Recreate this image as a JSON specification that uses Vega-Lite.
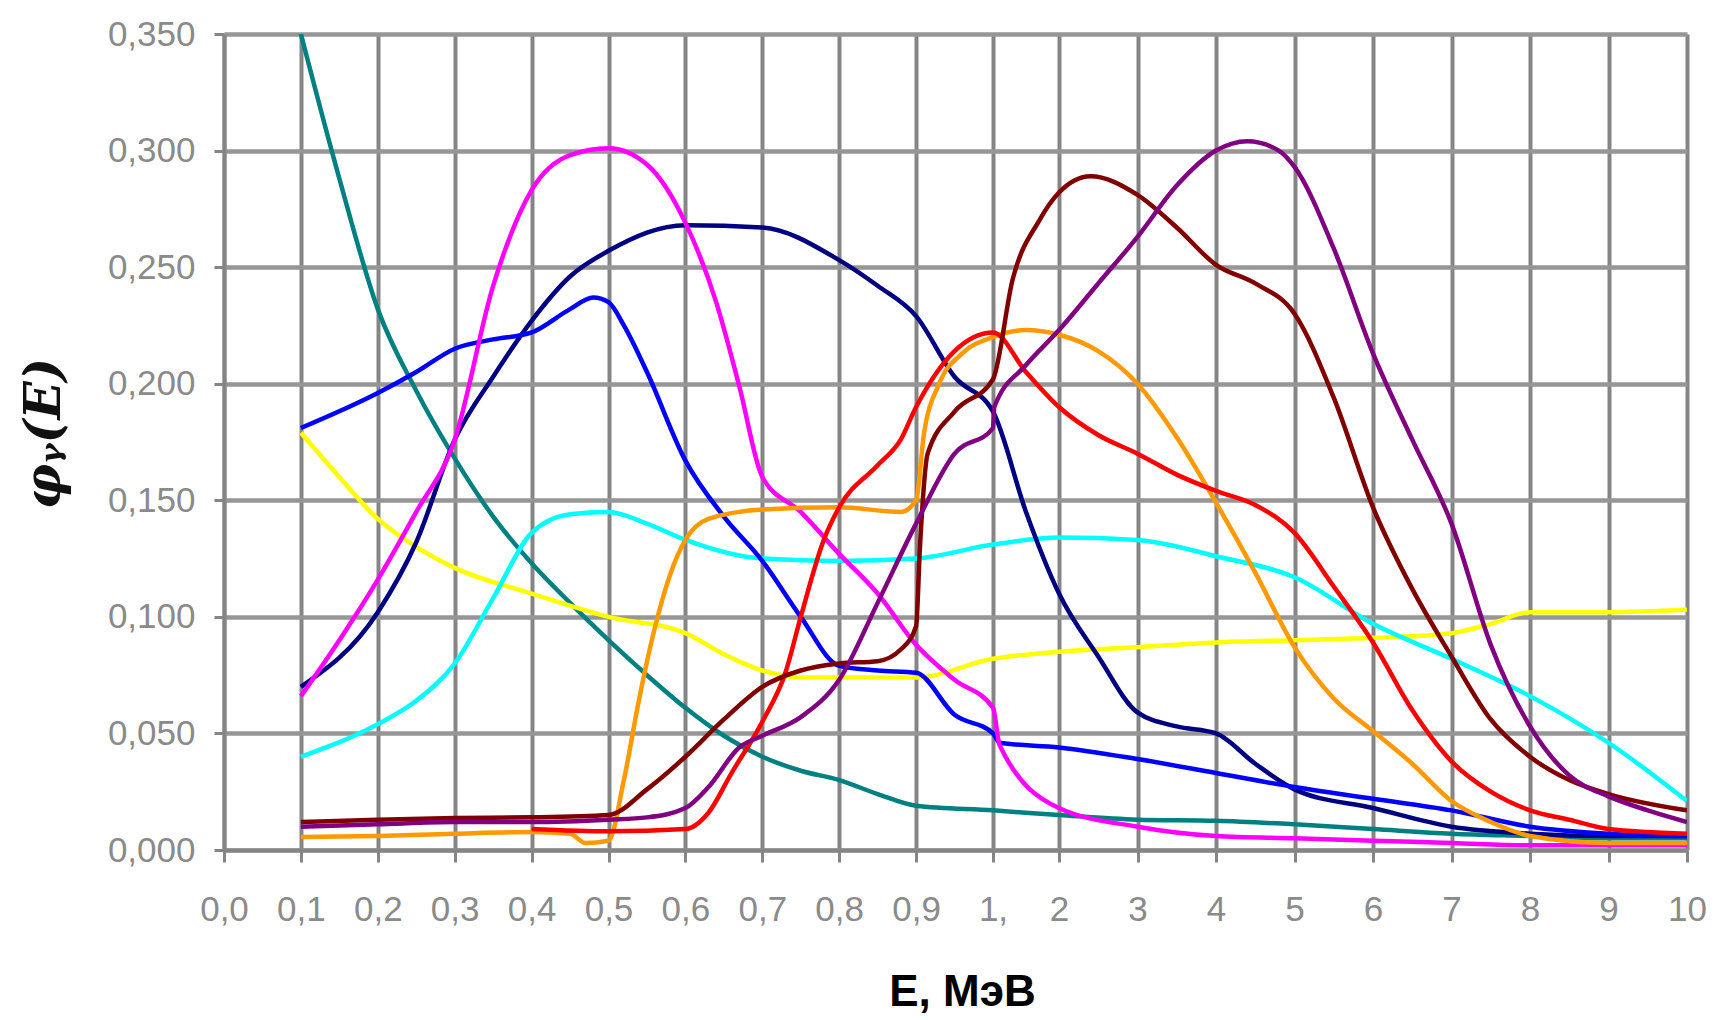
{
  "$schema": "https://vega.github.io/schema/vega-lite/v6.json",
  "width": 1463,
  "height": 816,
  "autosize": {"type": "none"},
  "padding": {"left": 224, "top": 34, "right": 28, "bottom": 170},
  "background": "white",
  "config": {
    "view": {"stroke": null},
    "font": "Liberation Sans"
  },
  "datasets": {
    "curves": [
      {"s":"teal","E":0.1,"v":0.350},{"s":"teal","E":0.15,"v":0.288},{"s":"teal","E":0.2,"v":0.232},{"s":"teal","E":0.25,"v":0.197},{"s":"teal","E":0.3,"v":0.168},{"s":"teal","E":0.35,"v":0.143},{"s":"teal","E":0.4,"v":0.123},{"s":"teal","E":0.45,"v":0.106},{"s":"teal","E":0.5,"v":0.090},{"s":"teal","E":0.55,"v":0.075},{"s":"teal","E":0.6,"v":0.061},{"s":"teal","E":0.65,"v":0.049},{"s":"teal","E":0.7,"v":0.040},{"s":"teal","E":0.75,"v":0.034},{"s":"teal","E":0.8,"v":0.030},{"s":"teal","E":0.85,"v":0.024},{"s":"teal","E":0.9,"v":0.019},{"s":"teal","E":1,"v":0.017},{"s":"teal","E":2,"v":0.015},{"s":"teal","E":3,"v":0.013},{"s":"teal","E":4,"v":0.0125},{"s":"teal","E":5,"v":0.011},{"s":"teal","E":6,"v":0.009},{"s":"teal","E":7,"v":0.007},{"s":"teal","E":8,"v":0.006},{"s":"teal","E":9,"v":0.005},{"s":"teal","E":10,"v":0.005},

      {"s":"yellow","E":0.1,"v":0.179},{"s":"yellow","E":0.15,"v":0.160},{"s":"yellow","E":0.2,"v":0.142},{"s":"yellow","E":0.25,"v":0.130},{"s":"yellow","E":0.3,"v":0.121},{"s":"yellow","E":0.4,"v":0.110},{"s":"yellow","E":0.5,"v":0.100},{"s":"yellow","E":0.6,"v":0.093},{"s":"yellow","E":0.65,"v":0.084},{"s":"yellow","E":0.7,"v":0.077},{"s":"yellow","E":0.75,"v":0.074},{"s":"yellow","E":0.8,"v":0.074},{"s":"yellow","E":0.9,"v":0.074},{"s":"yellow","E":1,"v":0.082},{"s":"yellow","E":2,"v":0.085},{"s":"yellow","E":3,"v":0.087},{"s":"yellow","E":4,"v":0.089},{"s":"yellow","E":5,"v":0.090},{"s":"yellow","E":6,"v":0.091},{"s":"yellow","E":7,"v":0.093},{"s":"yellow","E":7.5,"v":0.097},{"s":"yellow","E":8,"v":0.102},{"s":"yellow","E":9,"v":0.102},{"s":"yellow","E":10,"v":0.103},

      {"s":"cyan","E":0.1,"v":0.040},{"s":"cyan","E":0.2,"v":0.054},{"s":"cyan","E":0.25,"v":0.064},{"s":"cyan","E":0.3,"v":0.080},{"s":"cyan","E":0.35,"v":0.108},{"s":"cyan","E":0.4,"v":0.136},{"s":"cyan","E":0.45,"v":0.144},{"s":"cyan","E":0.5,"v":0.145},{"s":"cyan","E":0.55,"v":0.140},{"s":"cyan","E":0.6,"v":0.133},{"s":"cyan","E":0.7,"v":0.125},{"s":"cyan","E":0.8,"v":0.124},{"s":"cyan","E":0.9,"v":0.125},{"s":"cyan","E":1,"v":0.131},{"s":"cyan","E":2,"v":0.134},{"s":"cyan","E":3,"v":0.133},{"s":"cyan","E":4,"v":0.126},{"s":"cyan","E":5,"v":0.117},{"s":"cyan","E":6,"v":0.097},{"s":"cyan","E":7,"v":0.082},{"s":"cyan","E":8,"v":0.066},{"s":"cyan","E":9,"v":0.046},{"s":"cyan","E":10,"v":0.021},

      {"s":"navy","E":0.1,"v":0.070},{"s":"navy","E":0.2,"v":0.102},{"s":"navy","E":0.25,"v":0.132},{"s":"navy","E":0.3,"v":0.176},{"s":"navy","E":0.35,"v":0.203},{"s":"navy","E":0.4,"v":0.227},{"s":"navy","E":0.45,"v":0.246},{"s":"navy","E":0.5,"v":0.257},{"s":"navy","E":0.6,"v":0.268},{"s":"navy","E":0.7,"v":0.267},{"s":"navy","E":0.8,"v":0.253},{"s":"navy","E":0.85,"v":0.242},{"s":"navy","E":0.9,"v":0.229},{"s":"navy","E":0.95,"v":0.203},{"s":"navy","E":1,"v":0.188},{"s":"navy","E":1.5,"v":0.145},{"s":"navy","E":2,"v":0.110},{"s":"navy","E":2.5,"v":0.083},{"s":"navy","E":3,"v":0.059},{"s":"navy","E":3.5,"v":0.053},{"s":"navy","E":4,"v":0.050},{"s":"navy","E":4.5,"v":0.037},{"s":"navy","E":5,"v":0.026},{"s":"navy","E":6,"v":0.018},{"s":"navy","E":7,"v":0.010},{"s":"navy","E":8,"v":0.007},{"s":"navy","E":9,"v":0.006},{"s":"navy","E":10,"v":0.006},

      {"s":"blue","E":0.1,"v":0.181},{"s":"blue","E":0.2,"v":0.196},{"s":"blue","E":0.25,"v":0.205},{"s":"blue","E":0.3,"v":0.215},{"s":"blue","E":0.35,"v":0.219},{"s":"blue","E":0.4,"v":0.222},{"s":"blue","E":0.45,"v":0.232},{"s":"blue","E":0.48,"v":0.237},{"s":"blue","E":0.5,"v":0.235},{"s":"blue","E":0.52,"v":0.225},{"s":"blue","E":0.55,"v":0.205},{"s":"blue","E":0.6,"v":0.167},{"s":"blue","E":0.65,"v":0.143},{"s":"blue","E":0.7,"v":0.124},{"s":"blue","E":0.75,"v":0.100},{"s":"blue","E":0.8,"v":0.079},{"s":"blue","E":0.85,"v":0.077},{"s":"blue","E":0.9,"v":0.076},{"s":"blue","E":0.95,"v":0.058},{"s":"blue","E":1,"v":0.050},{"s":"blue","E":1.1,"v":0.046},{"s":"blue","E":2,"v":0.044},{"s":"blue","E":3,"v":0.039},{"s":"blue","E":4,"v":0.033},{"s":"blue","E":5,"v":0.027},{"s":"blue","E":6,"v":0.022},{"s":"blue","E":7,"v":0.017},{"s":"blue","E":8,"v":0.010},{"s":"blue","E":9,"v":0.007},{"s":"blue","E":10,"v":0.006},

      {"s":"magenta","E":0.1,"v":0.066},{"s":"magenta","E":0.15,"v":0.090},{"s":"magenta","E":0.2,"v":0.116},{"s":"magenta","E":0.25,"v":0.145},{"s":"magenta","E":0.3,"v":0.176},{"s":"magenta","E":0.35,"v":0.242},{"s":"magenta","E":0.4,"v":0.283},{"s":"magenta","E":0.45,"v":0.298},{"s":"magenta","E":0.5,"v":0.301},{"s":"magenta","E":0.55,"v":0.294},{"s":"magenta","E":0.6,"v":0.269},{"s":"magenta","E":0.64,"v":0.235},{"s":"magenta","E":0.67,"v":0.199},{"s":"magenta","E":0.7,"v":0.160},{"s":"magenta","E":0.75,"v":0.145},{"s":"magenta","E":0.8,"v":0.127},{"s":"magenta","E":0.85,"v":0.110},{"s":"magenta","E":0.9,"v":0.088},{"s":"magenta","E":0.95,"v":0.073},{"s":"magenta","E":1,"v":0.061},{"s":"magenta","E":1.1,"v":0.045},{"s":"magenta","E":2,"v":0.018},{"s":"magenta","E":3,"v":0.010},{"s":"magenta","E":4,"v":0.006},{"s":"magenta","E":5,"v":0.005},{"s":"magenta","E":6,"v":0.004},{"s":"magenta","E":7,"v":0.003},{"s":"magenta","E":8,"v":0.002},{"s":"magenta","E":9,"v":0.002},{"s":"magenta","E":10,"v":0.002},

      {"s":"orange","E":0.1,"v":0.0056},{"s":"orange","E":0.2,"v":0.006},{"s":"orange","E":0.3,"v":0.007},{"s":"orange","E":0.4,"v":0.0077},{"s":"orange","E":0.45,"v":0.007},{"s":"orange","E":0.47,"v":0.003},{"s":"orange","E":0.5,"v":0.004},{"s":"orange","E":0.52,"v":0.030},{"s":"orange","E":0.54,"v":0.065},{"s":"orange","E":0.56,"v":0.095},{"s":"orange","E":0.58,"v":0.118},{"s":"orange","E":0.6,"v":0.133},{"s":"orange","E":0.63,"v":0.142},{"s":"orange","E":0.7,"v":0.146},{"s":"orange","E":0.8,"v":0.147},{"s":"orange","E":0.88,"v":0.145},{"s":"orange","E":0.9,"v":0.150},{"s":"orange","E":0.91,"v":0.178},{"s":"orange","E":0.93,"v":0.200},{"s":"orange","E":0.96,"v":0.213},{"s":"orange","E":1,"v":0.220},{"s":"orange","E":1.5,"v":0.223},{"s":"orange","E":2,"v":0.221},{"s":"orange","E":2.5,"v":0.214},{"s":"orange","E":3,"v":0.200},{"s":"orange","E":3.5,"v":0.177},{"s":"orange","E":4,"v":0.149},{"s":"orange","E":4.5,"v":0.119},{"s":"orange","E":5,"v":0.087},{"s":"orange","E":5.5,"v":0.065},{"s":"orange","E":6,"v":0.051},{"s":"orange","E":6.5,"v":0.037},{"s":"orange","E":7,"v":0.021},{"s":"orange","E":7.5,"v":0.012},{"s":"orange","E":8,"v":0.006},{"s":"orange","E":9,"v":0.003},{"s":"orange","E":10,"v":0.003},

      {"s":"red","E":0.4,"v":0.009},{"s":"red","E":0.5,"v":0.008},{"s":"red","E":0.6,"v":0.009},{"s":"red","E":0.63,"v":0.016},{"s":"red","E":0.66,"v":0.033},{"s":"red","E":0.7,"v":0.055},{"s":"red","E":0.73,"v":0.076},{"s":"red","E":0.75,"v":0.100},{"s":"red","E":0.78,"v":0.133},{"s":"red","E":0.8,"v":0.147},{"s":"red","E":0.85,"v":0.165},{"s":"red","E":0.88,"v":0.176},{"s":"red","E":0.9,"v":0.190},{"s":"red","E":0.95,"v":0.214},{"s":"red","E":1,"v":0.222},{"s":"red","E":1.5,"v":0.205},{"s":"red","E":2,"v":0.190},{"s":"red","E":2.5,"v":0.178},{"s":"red","E":3,"v":0.170},{"s":"red","E":3.5,"v":0.161},{"s":"red","E":4,"v":0.154},{"s":"red","E":4.5,"v":0.148},{"s":"red","E":5,"v":0.136},{"s":"red","E":5.5,"v":0.113},{"s":"red","E":6,"v":0.089},{"s":"red","E":6.5,"v":0.060},{"s":"red","E":7,"v":0.038},{"s":"red","E":7.5,"v":0.025},{"s":"red","E":8,"v":0.017},{"s":"red","E":8.5,"v":0.013},{"s":"red","E":9,"v":0.009},{"s":"red","E":10,"v":0.007},

      {"s":"maroon","E":0.1,"v":0.012},{"s":"maroon","E":0.2,"v":0.013},{"s":"maroon","E":0.3,"v":0.0137},{"s":"maroon","E":0.4,"v":0.014},{"s":"maroon","E":0.5,"v":0.015},{"s":"maroon","E":0.55,"v":0.026},{"s":"maroon","E":0.6,"v":0.040},{"s":"maroon","E":0.65,"v":0.056},{"s":"maroon","E":0.7,"v":0.070},{"s":"maroon","E":0.75,"v":0.077},{"s":"maroon","E":0.8,"v":0.080},{"s":"maroon","E":0.85,"v":0.081},{"s":"maroon","E":0.88,"v":0.086},{"s":"maroon","E":0.9,"v":0.096},{"s":"maroon","E":0.905,"v":0.130},{"s":"maroon","E":0.915,"v":0.170},{"s":"maroon","E":0.95,"v":0.188},{"s":"maroon","E":1,"v":0.202},{"s":"maroon","E":1.3,"v":0.245},{"s":"maroon","E":1.7,"v":0.270},{"s":"maroon","E":2,"v":0.282},{"s":"maroon","E":2.4,"v":0.289},{"s":"maroon","E":3,"v":0.281},{"s":"maroon","E":3.5,"v":0.267},{"s":"maroon","E":4,"v":0.251},{"s":"maroon","E":4.5,"v":0.243},{"s":"maroon","E":5,"v":0.230},{"s":"maroon","E":5.5,"v":0.194},{"s":"maroon","E":6,"v":0.147},{"s":"maroon","E":6.5,"v":0.112},{"s":"maroon","E":7,"v":0.083},{"s":"maroon","E":7.5,"v":0.056},{"s":"maroon","E":8,"v":0.040},{"s":"maroon","E":8.5,"v":0.030},{"s":"maroon","E":9,"v":0.024},{"s":"maroon","E":10,"v":0.017},

      {"s":"purple","E":0.1,"v":0.010},{"s":"purple","E":0.2,"v":0.011},{"s":"purple","E":0.3,"v":0.012},{"s":"purple","E":0.4,"v":0.012},{"s":"purple","E":0.5,"v":0.013},{"s":"purple","E":0.55,"v":0.014},{"s":"purple","E":0.6,"v":0.018},{"s":"purple","E":0.63,"v":0.027},{"s":"purple","E":0.67,"v":0.044},{"s":"purple","E":0.7,"v":0.049},{"s":"purple","E":0.75,"v":0.057},{"s":"purple","E":0.8,"v":0.073},{"s":"purple","E":0.85,"v":0.106},{"s":"purple","E":0.9,"v":0.140},{"s":"purple","E":0.95,"v":0.170},{"s":"purple","E":1,"v":0.181},{"s":"purple","E":1.02,"v":0.190},{"s":"purple","E":1.5,"v":0.208},{"s":"purple","E":2,"v":0.223},{"s":"purple","E":2.5,"v":0.243},{"s":"purple","E":3,"v":0.263},{"s":"purple","E":3.5,"v":0.285},{"s":"purple","E":4,"v":0.300},{"s":"purple","E":4.4,"v":0.304},{"s":"purple","E":4.8,"v":0.300},{"s":"purple","E":5,"v":0.293},{"s":"purple","E":5.5,"v":0.258},{"s":"purple","E":6,"v":0.213},{"s":"purple","E":6.5,"v":0.176},{"s":"purple","E":7,"v":0.140},{"s":"purple","E":7.5,"v":0.088},{"s":"purple","E":8,"v":0.053},{"s":"purple","E":8.5,"v":0.032},{"s":"purple","E":9,"v":0.023},{"s":"purple","E":9.5,"v":0.017},{"s":"purple","E":10,"v":0.012}
    ]
  },
  "data": {"name": "curves"},
  "mark": {"type": "line", "interpolate": "monotone", "strokeWidth": 4.5, "clip": true},
  "encoding": {
    "x": {
      "field": "E",
      "type": "quantitative",
      "scale": {"type": "linear", "domain": [0, 1, 2, 10], "range": [0, 769, 835, 1463], "nice": false, "zero": false},
      "axis": {
        "values": [0, 0.1, 0.2, 0.3, 0.4, 0.5, 0.6, 0.7, 0.8, 0.9, 1, 2, 3, 4, 5, 6, 7, 8, 9, 10],
        "labelExpr": "datum.value < 0.95 ? replace(format(datum.value, '.1f'), '.', ',') : (datum.value < 1.5 ? '1,' : format(datum.value, 'd'))",
        "labelFont": "Liberation Sans",
        "labelFontSize": 35,
        "labelColor": "#8a8a8a",
        "labelPadding": 30,
        "labelOverlap": false,
        "labelFlush": false,
        "tickSize": 12,
        "tickWidth": 3,
        "tickColor": "#858585",
        "domain": true,
        "domainColor": "#858585",
        "domainWidth": 4,
        "grid": true,
        "gridColor": "#858585",
        "gridWidth": 4,
        "title": "E, МэВ",
        "titleFont": "Liberation Sans",
        "titleFontSize": 44,
        "titleFontWeight": "bold",
        "titleColor": "#000000",
        "titleX": 738,
        "titleY": 155,
        "titleAlign": "center",
        "titleBaseline": "alphabetic"
      }
    },
    "y": {
      "field": "v",
      "type": "quantitative",
      "scale": {"domain": [0, 0.35], "nice": false, "zero": true},
      "axis": {
        "values": [0, 0.05, 0.1, 0.15, 0.2, 0.25, 0.3, 0.35],
        "labelExpr": "replace(format(datum.value, '.3f'), '.', ',')",
        "labelFont": "Liberation Sans",
        "labelFontSize": 35,
        "labelColor": "#8a8a8a",
        "labelPadding": 19,
        "labelFlush": false,
        "labelOverlap": false,
        "tickSize": 10,
        "tickWidth": 3,
        "tickColor": "#858585",
        "domain": true,
        "domainColor": "#858585",
        "domainWidth": 4,
        "grid": true,
        "gridColor": "#969696",
        "gridWidth": 4.5,
        "title": "φᵧ(E)",
        "titleFont": "DejaVu Serif",
        "titleFontSize": 50,
        "titleFontWeight": "bold",
        "titleFontStyle": "italic",
        "titleColor": "#111111",
        "titleAngle": 270,
        "titleAlign": "center",
        "titleBaseline": "middle",
        "titleX": -180,
        "titleY": 399
      }
    },
    "color": {
      "field": "s",
      "type": "nominal",
      "scale": {
        "domain": ["teal", "yellow", "cyan", "navy", "blue", "magenta", "orange", "red", "maroon", "purple"],
        "range": ["#008080", "#FFFF00", "#00FFFF", "#000080", "#0000FF", "#FF00FF", "#FF9900", "#FF0000", "#800000", "#800080"]
      },
      "legend": null
    }
  }
}
